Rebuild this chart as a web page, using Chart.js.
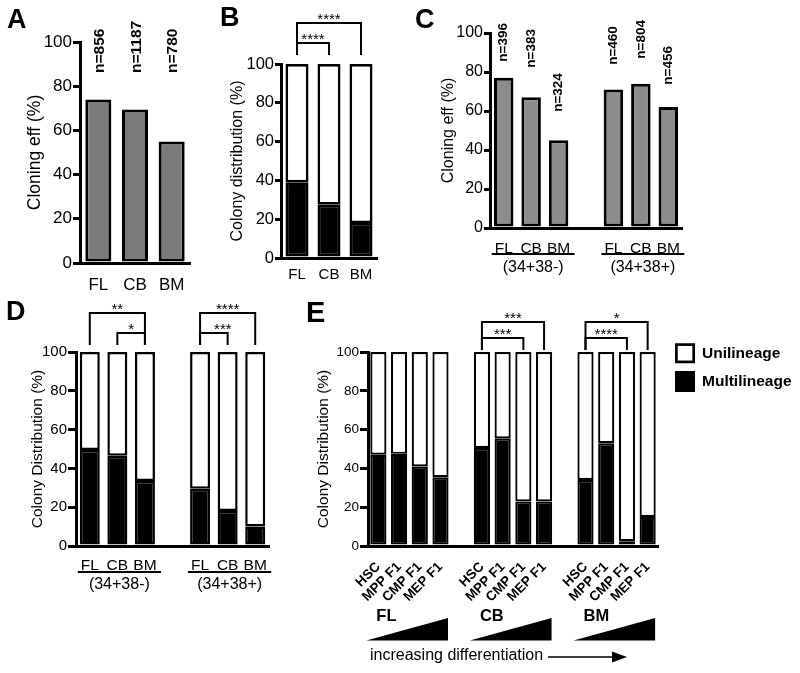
<!DOCTYPE html>
<html><head><meta charset="utf-8">
<script src="https://cdn.jsdelivr.net/npm/chart.js@4.4.1/dist/chart.umd.min.js"></script>
<style>
html,body{margin:0;padding:0;background:#fff;}
#wrap{position:relative;width:800px;height:673px;overflow:hidden;background:#fff;}
canvas{position:absolute;left:0;top:0;width:800px;height:673px;}
</style></head><body><div id="wrap">
<canvas id="cA" width="800" height="673"></canvas>
<canvas id="cB" width="800" height="673"></canvas>
<canvas id="cC" width="800" height="673"></canvas>
<canvas id="cD" width="800" height="673"></canvas>
<canvas id="cE" width="800" height="673"></canvas>
</div>
<script>
// ---------- data ----------
const yTicks = [0, 20, 40, 60, 80, 100];

// Panel A
const tissuesA = ['FL', 'CB', 'BM'];
const cloningA = [74, 69.5, 55];
const countsA = ['n=856', 'n=1187', 'n=780'];

// Panel B
const tissuesB = ['FL', 'CB', 'BM'];
const multiB = [39, 27.5, 18];
const uniB = [61, 72.5, 82];
const sigB = [{a: 0, b: 1, t: '****', lvl: 0}, {a: 0, b: 2, t: '****', lvl: 1}];

// Panel C
const tissuesC = ['FL', 'CB', 'BM', '', 'FL', 'CB', 'BM'];
const cloningC = [77, 67, 45, null, 71, 74, 62];
const countsC = ['n=396', 'n=383', 'n=324', '', 'n=460', 'n=804', 'n=456'];
const subsets = ['(34+38-)', '(34+38+)'];

// Panel D
const tissuesD = ['FL', 'CB', 'BM', '', 'FL', 'CB', 'BM'];
const multiD = [49.5, 46.5, 33.5, null, 29.5, 18, 10];
const uniD = [50.5, 53.5, 66.5, null, 70.5, 82, 90];
const sigD = [
  {a: 0, b: 2, t: '**', lvl: 1}, {a: 1, b: 2, t: '*', lvl: 0},
  {a: 4, b: 6, t: '****', lvl: 1}, {a: 4, b: 5, t: '***', lvl: 0, dx: 9}
];

// Panel E
const popsE = ['HSC', 'MPP F1', 'CMP F1', 'MEP F1', '', 'HSC', 'MPP F1', 'CMP F1', 'MEP F1', '', 'HSC', 'MPP F1', 'CMP F1', 'MEP F1'];
const multiE = [47, 47.5, 41, 35.5, null, 50.5, 55.5, 23, 23, null, 34, 53, 2.5, 15];
const uniE = [53, 52.5, 59, 64.5, null, 49.5, 44.5, 77, 77, null, 66, 47, 97.5, 85];
const tissuesE = ['FL', 'CB', 'BM'];
const sigE = [
  {a: 5, b: 7, t: '***', lvl: 0}, {a: 5, b: 8, t: '***', lvl: 1},
  {a: 10, b: 12, t: '****', lvl: 0}, {a: 10, b: 13, t: '*', lvl: 1}
];
const legendE = ['Unilineage', 'Multilineage'];
const arrowText = 'increasing differentiation';

// label anchor heights (in axis units) for the n= labels
const nPosA = [86, 86, 86];
const nPosC = [85.3, 82.2, 59.6, null, 83.7, 86.8, 73.5];

// ---------- helpers ----------
const FONT = "'Liberation Sans', Arial, Helvetica, sans-serif";
Chart.defaults.font.family = FONT;
Chart.defaults.color = '#000';
const PW = 800, PH = 673, XH = 60;

function bars(label, data, color, bw, bp) {
  return {label, data, backgroundColor: color, borderColor: '#000', borderWidth: bw,
    borderSkipped: false, barPercentage: bp, categoryPercentage: 1};
}

function panel(id, o) {
  const yW = o.area.l - o.titleX + o.titleSize * 0.6;
  return new Chart(document.getElementById(id), {
    type: 'bar',
    data: {labels: o.labels, datasets: o.datasets},
    plugins: [{id: 'ov' + id, afterDraw: c => { const ctx = c.ctx; ctx.save(); ctx.fillStyle = '#000'; ctx.strokeStyle = '#000'; o.draw(c, ctx); ctx.restore(); }}],
    options: {
      responsive: false, animation: false, events: [], devicePixelRatio: 1,
      layout: {padding: {left: o.area.l - yW, top: o.area.t, right: PW - o.area.r, bottom: PH - o.area.b - XH}},
      plugins: {legend: {display: false}, tooltip: {enabled: false}, title: {display: false}},
      scales: {
        x: {
          stacked: true, offset: true,
          grid: {display: false},
          border: {display: true, width: 3, color: '#000'},
          ticks: {font: {size: o.xSize, weight: o.xWeight || 'normal'}, color: '#000', padding: o.xPad,
            autoSkip: false, minRotation: o.rot || 0, maxRotation: o.rot || 0},
          afterFit: s => { s.height = XH; }
        },
        y: {
          stacked: true, min: 0, max: 100,
          afterBuildTicks: s => { s.ticks = yTicks.map(v => ({value: v})); },
          grid: {display: true, drawOnChartArea: false, drawTicks: true, tickLength: o.tickLen, lineWidth: 3, color: '#000'},
          border: {display: true, width: 3, color: '#000'},
          ticks: {font: {size: o.tickSize}, color: '#000', padding: 1},
          title: {display: true, text: o.title, font: {size: o.titleSize, lineHeight: 1.2}, color: '#000', padding: 0},
          afterFit: s => { s.width = yW; }
        }
      }
    }
  });
}

function letter(ctx, t, x, y, size) {
  ctx.font = 'bold ' + size + 'px ' + FONT;
  ctx.textAlign = 'left'; ctx.textBaseline = 'alphabetic';
  ctx.fillText(t, x, y);
}
function upText(ctx, t, x, y, font) {
  ctx.save(); ctx.translate(x, y); ctx.rotate(-Math.PI / 2);
  ctx.font = font; ctx.textAlign = 'left'; ctx.textBaseline = 'middle';
  ctx.fillText(t, 0, 0); ctx.restore();
}
function brackets(c, ctx, list, lvlOff, botOff) {
  const x = c.scales.x, top = c.chartArea.top;
  list.forEach(s => {
    const x1 = x.getPixelForValue(s.a), x2 = x.getPixelForValue(s.b);
    const yl = top - lvlOff[s.lvl], yb = top - botOff;
    ctx.beginPath(); ctx.moveTo(x1, yb); ctx.lineTo(x1, yl); ctx.lineTo(x2, yl); ctx.lineTo(x2, yb);
    ctx.lineWidth = 2; ctx.stroke();
    ctx.font = '15px ' + FONT; ctx.textAlign = 'center'; ctx.textBaseline = 'alphabetic';
    ctx.fillText(s.t, (x1 + x2) / 2 + (s.dx || 0), yl + 0.5);
  });
}
function groups(c, ctx, lineOff, textOff) {
  const x = c.scales.x, b = c.chartArea.bottom;
  subsets.forEach((g, i) => {
    const f = x.getPixelForValue(i * 4), l = x.getPixelForValue(i * 4 + 2);
    ctx.beginPath(); ctx.moveTo(f - 12, b + lineOff); ctx.lineTo(l + 16, b + lineOff);
    ctx.lineWidth = 2; ctx.stroke();
    ctx.font = '16px ' + FONT; ctx.textAlign = 'center'; ctx.textBaseline = 'middle';
    ctx.fillText(g, (f + l) / 2 + 2, b + textOff);
  });
}

// ---------- Panel A ----------
panel('cA', {
  area: {l: 80, t: 42, r: 190, b: 263}, titleX: 35, titleSize: 17.5, title: 'Cloning eff (%)',
  tickSize: 17, tickLen: 7, xSize: 17, xPad: 4, labels: tissuesA,
  datasets: [bars('Cloning eff', cloningA, '#7b7b7b', 3, 0.71)],
  draw: (c, ctx) => {
    const x = c.scales.x, y = c.scales.y;
    countsA.forEach((t, i) => upText(ctx, t, x.getPixelForValue(i) + 1.5, y.getPixelForValue(nPosA[i]), 'bold 15.5px ' + FONT));
    letter(ctx, 'A', 7, 28, 27);
  }
});

// ---------- Panel B ----------
panel('cB', {
  area: {l: 281, t: 64, r: 377, b: 258}, titleX: 237.5, titleSize: 16, title: 'Colony distribution (%)',
  tickSize: 16.5, tickLen: 6, xSize: 15, xPad: 0, labels: tissuesB,
  datasets: [bars('Multilineage', multiB, '#000', 2.7, 0.72), bars('Unilineage', uniB, '#fff', 2.7, 0.72)],
  draw: (c, ctx) => {
    brackets(c, ctx, sigB, [21, 41], 9);
    letter(ctx, 'B', 220, 25.5, 27);
  }
});

// ---------- Panel C ----------
panel('cC', {
  area: {l: 490, t: 33, r: 682, b: 228}, titleX: 449, titleSize: 16, title: 'Cloning eff (%)',
  tickSize: 16, tickLen: 6, xSize: 15.5, xPad: 3, labels: tissuesC,
  datasets: [bars('Cloning eff', cloningC, '#8c8c8c', 3, 0.71)],
  draw: (c, ctx) => {
    const x = c.scales.x, y = c.scales.y;
    countsC.forEach((t, i) => { if (t) upText(ctx, t, x.getPixelForValue(i), y.getPixelForValue(nPosC[i]), 'bold 13.5px ' + FONT); });
    groups(c, ctx, 26, 40);
    letter(ctx, 'C', 415, 28.3, 27);
  }
});

// ---------- Panel D ----------
panel('cD', {
  area: {l: 76, t: 352, r: 269, b: 546}, titleX: 37.5, titleSize: 15.5, title: 'Colony Distribution (%)',
  tickSize: 15, tickLen: 8, xSize: 15.5, xPad: 2.4, labels: tissuesD,
  datasets: [bars('Multilineage', multiD, '#000', 2.5, 0.725), bars('Unilineage', uniD, '#fff', 2.5, 0.725)],
  draw: (c, ctx) => {
    brackets(c, ctx, sigD, [19, 39], 7);
    groups(c, ctx, 26, 39);
    letter(ctx, 'D', 6, 320, 27);
  }
});

// ---------- Panel E ----------
panel('cE', {
  area: {l: 368, t: 352, r: 658, b: 546}, titleX: 324, titleSize: 15.5, title: 'Colony Distribution (%)',
  tickSize: 13.5, tickLen: 8, xSize: 13.5, xWeight: 'bold', xPad: 5, rot: 45, labels: popsE,
  datasets: [bars('Multilineage', multiE, '#000', 2.2, 0.78), bars('Unilineage', uniE, '#fff', 2.2, 0.78)],
  draw: (c, ctx) => {
    const x = c.scales.x;
    brackets(c, ctx, sigE, [14, 30], 2);
    tissuesE.forEach((t, g) => {
      const f = x.getPixelForValue(g * 5), l = x.getPixelForValue(g * 5 + 3);
      ctx.font = 'bold 16.5px ' + FONT; ctx.textAlign = 'left'; ctx.textBaseline = 'middle';
      ctx.fillText(t, f - 2, 616);
      ctx.beginPath(); ctx.moveTo(f - 12, 640.5); ctx.lineTo(l + 7.5, 640.5); ctx.lineTo(l + 7.5, 618); ctx.closePath(); ctx.fill();
    });
    ctx.font = '16px ' + FONT; ctx.textAlign = 'left'; ctx.textBaseline = 'middle';
    ctx.fillText(arrowText, 370, 656);
    ctx.beginPath(); ctx.moveTo(548, 657); ctx.lineTo(614, 657); ctx.lineWidth = 1.5; ctx.stroke();
    ctx.beginPath(); ctx.moveTo(612, 651.5); ctx.lineTo(627, 657); ctx.lineTo(612, 662.5); ctx.closePath(); ctx.fill();
    // legend
    ctx.lineWidth = 2.7; ctx.strokeRect(676.4, 344.6, 17.3, 17.3);
    ctx.fillRect(675, 371, 20, 21);
    ctx.font = 'bold 15.5px ' + FONT; ctx.textAlign = 'left'; ctx.textBaseline = 'middle';
    ctx.fillText(legendE[0], 702, 353.5);
    ctx.fillText(legendE[1], 702, 382);
    letter(ctx, 'E', 306, 322, 29);
  }
});
</script></body></html>
